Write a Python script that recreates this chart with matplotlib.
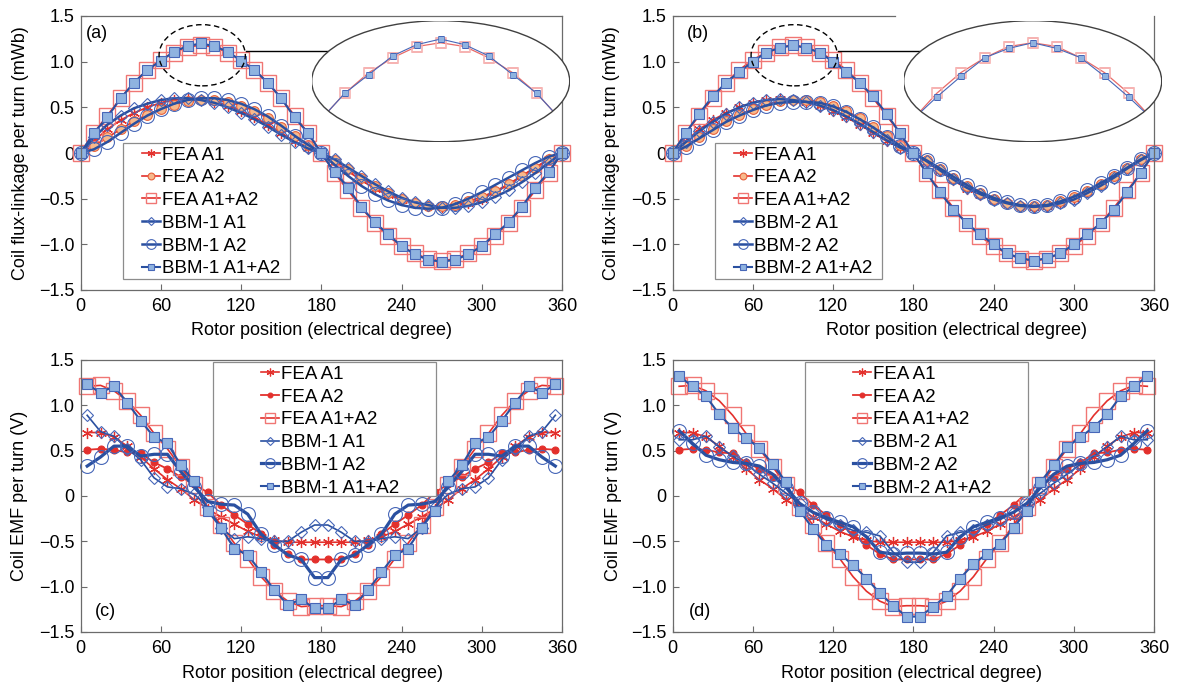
import matplotlib
matplotlib.use("Agg")
import matplotlib.pyplot as plt
from matplotlib.patches import Ellipse, Rectangle
from matplotlib.ticker import FuncFormatter

plt.rcParams["font.family"] = ["Liberation Sans", "DejaVu Sans"]

# Rotor position (electrical degree)
pos_flux = list(range(0, 361, 10))
pos_emf = list(range(5, 360, 10))

# Coil flux-linkage per turn (mWb), panels (a) and (b)
flux_fea_a1 = [0, 0.13, 0.26, 0.36, 0.44, 0.50, 0.55, 0.58, 0.59, 0.58, 0.56, 0.52, 0.46, 0.39,
               0.31, 0.22, 0.13, 0.06, 0, -0.10, -0.20, -0.30, -0.39, -0.46, -0.51, -0.55, -0.58,
               -0.59, -0.58, -0.55, -0.50, -0.43, -0.35, -0.25, -0.16, -0.07, 0]
flux_fea_a2 = [0, 0.08, 0.17, 0.26, 0.35, 0.42, 0.48, 0.53, 0.57, 0.58, 0.58, 0.56, 0.52, 0.46,
               0.38, 0.29, 0.19, 0.09, 0, -0.08, -0.17, -0.27, -0.36, -0.44, -0.50, -0.55, -0.58,
               -0.58, -0.57, -0.53, -0.48, -0.42, -0.34, -0.25, -0.16, -0.07, 0]
flux_fea_a12 = [0, 0.22, 0.41, 0.60, 0.77, 0.91, 1.02, 1.10, 1.16, 1.18, 1.16, 1.10, 1.02, 0.91,
                0.77, 0.60, 0.41, 0.22, 0, -0.22, -0.41, -0.60, -0.77, -0.91, -1.02, -1.10, -1.16,
                -1.18, -1.16, -1.10, -1.02, -0.91, -0.77, -0.60, -0.41, -0.22, 0]
flux_bbm1_a1 = [0, 0.17, 0.31, 0.41, 0.49, 0.54, 0.58, 0.60, 0.60, 0.58, 0.55, 0.50, 0.44, 0.37,
                0.29, 0.20, 0.12, 0.05, 0, -0.07, -0.16, -0.25, -0.34, -0.42, -0.49, -0.54, -0.57,
                -0.60, -0.60, -0.58, -0.54, -0.48, -0.41, -0.32, -0.22, -0.11, 0]
flux_bbm1_a2 = [0, 0.04, 0.12, 0.22, 0.32, 0.41, 0.48, 0.54, 0.58, 0.60, 0.60, 0.58, 0.54, 0.48,
                0.40, 0.30, 0.19, 0.09, 0, -0.13, -0.25, -0.36, -0.45, -0.52, -0.57, -0.60, -0.61,
                -0.60, -0.56, -0.50, -0.43, -0.35, -0.27, -0.19, -0.11, -0.04, 0]
flux_bbm1_a12 = [0, 0.22, 0.39, 0.60, 0.77, 0.91, 1.01, 1.11, 1.17, 1.20, 1.17, 1.11, 1.01, 0.91,
                 0.77, 0.60, 0.39, 0.22, 0, -0.21, -0.38, -0.59, -0.76, -0.89, -1.02, -1.11, -1.17,
                 -1.19, -1.17, -1.11, -1.02, -0.89, -0.76, -0.59, -0.38, -0.21, 0]
flux_bbm2_a1 = [0, 0.12, 0.24, 0.34, 0.43, 0.50, 0.55, 0.58, 0.59, 0.58, 0.56, 0.52, 0.47, 0.40,
                0.32, 0.23, 0.14, 0.06, 0, -0.09, -0.19, -0.29, -0.38, -0.45, -0.51, -0.55, -0.58,
                -0.59, -0.58, -0.55, -0.51, -0.44, -0.36, -0.27, -0.17, -0.08, 0]
flux_bbm2_a2 = [0, 0.07, 0.16, 0.25, 0.34, 0.41, 0.47, 0.52, 0.55, 0.56, 0.56, 0.55, 0.51, 0.45,
                0.37, 0.28, 0.18, 0.08, 0, -0.08, -0.17, -0.26, -0.35, -0.43, -0.49, -0.54, -0.57,
                -0.58, -0.57, -0.53, -0.48, -0.41, -0.33, -0.25, -0.16, -0.07, 0]
flux_bbm2_a12 = [0, 0.22, 0.43, 0.62, 0.77, 0.89, 1.00, 1.10, 1.15, 1.18, 1.15, 1.10, 1.00, 0.89,
                 0.77, 0.62, 0.43, 0.22, 0, -0.22, -0.43, -0.62, -0.77, -0.89, -1.00, -1.10, -1.15,
                 -1.18, -1.15, -1.10, -1.00, -0.89, -0.77, -0.62, -0.43, -0.22, 0]

# Coil EMF per turn (V), panels (c) and (d)
emf_fea_a1 = [0.70, 0.70, 0.65, 0.55, 0.43, 0.30, 0.18, 0.08, -0.04, -0.14, -0.23, -0.31,
              -0.39, -0.45, -0.49, -0.51, -0.51, -0.51, -0.51, -0.51, -0.51, -0.49, -0.45,
              -0.39, -0.31, -0.23, -0.14, -0.04, 0.08, 0.18, 0.30, 0.43, 0.55, 0.65, 0.70, 0.70]
emf_fea_a2 = [0.51, 0.52, 0.51, 0.48, 0.47, 0.37, 0.30, 0.21, 0.13, 0.04, -0.10, -0.21,
              -0.31, -0.42, -0.54, -0.64, -0.70, -0.70, -0.70, -0.70, -0.64, -0.54, -0.42,
              -0.31, -0.21, -0.10, 0.04, 0.13, 0.21, 0.30, 0.37, 0.47, 0.48, 0.51, 0.52, 0.51]
emf_fea_a12 = [1.21, 1.22, 1.16, 1.05, 0.89, 0.69, 0.52, 0.32, 0.12, -0.12, -0.32, -0.52,
               -0.69, -0.89, -1.05, -1.16, -1.22, -1.21, -1.21, -1.22, -1.16, -1.05, -0.89,
               -0.69, -0.52, -0.32, -0.12, 0.12, 0.32, 0.52, 0.69, 0.89, 1.05, 1.16, 1.22, 1.21]
emf_bbm1_a1 = [0.89, 0.71, 0.66, 0.52, 0.40, 0.20, 0.10, 0.08, 0.02, -0.12, -0.35, -0.47,
               -0.45, -0.47, -0.50, -0.50, -0.40, -0.32, -0.32, -0.40, -0.50, -0.50, -0.47,
               -0.45, -0.47, -0.35, -0.12, 0.02, 0.08, 0.10, 0.20, 0.40, 0.52, 0.66, 0.71, 0.89]
emf_bbm1_a2 = [0.33, 0.43, 0.55, 0.55, 0.44, 0.46, 0.46, 0.27, 0.10, -0.06, -0.09, -0.10,
               -0.20, -0.42, -0.54, -0.65, -0.70, -0.90, -0.90, -0.70, -0.65, -0.54, -0.42,
               -0.20, -0.10, -0.09, -0.06, 0.10, 0.27, 0.46, 0.46, 0.44, 0.55, 0.55, 0.43, 0.33]
emf_bbm1_a12 = [1.23, 1.14, 1.21, 1.03, 0.83, 0.65, 0.58, 0.34, 0.16, -0.16, -0.35, -0.58,
                -0.65, -0.84, -1.04, -1.20, -1.14, -1.24, -1.24, -1.14, -1.20, -1.04, -0.84,
                -0.65, -0.58, -0.35, -0.16, 0.16, 0.34, 0.58, 0.65, 0.83, 1.03, 1.21, 1.14, 1.23]
emf_bbm2_a1 = [0.62, 0.62, 0.66, 0.54, 0.44, 0.35, 0.24, 0.14, 0.03, -0.08, -0.18, -0.26,
               -0.32, -0.38, -0.40, -0.44, -0.62, -0.73, -0.73, -0.62, -0.44, -0.40, -0.38,
               -0.32, -0.26, -0.18, -0.08, 0.03, 0.14, 0.24, 0.35, 0.44, 0.54, 0.66, 0.62, 0.62]
emf_bbm2_a2 = [0.72, 0.58, 0.45, 0.40, 0.37, 0.36, 0.33, 0.24, 0.09, -0.08, -0.18, -0.24,
               -0.29, -0.34, -0.45, -0.62, -0.64, -0.63, -0.63, -0.64, -0.62, -0.45, -0.34,
               -0.29, -0.24, -0.18, -0.08, 0.09, 0.24, 0.33, 0.36, 0.37, 0.40, 0.45, 0.58, 0.72]
emf_bbm2_a12 = [1.32, 1.21, 1.10, 0.90, 0.75, 0.64, 0.53, 0.35, 0.15, -0.16, -0.36, -0.54,
                -0.64, -0.76, -0.91, -1.07, -1.21, -1.33, -1.33, -1.22, -1.10, -0.91, -0.75,
                -0.64, -0.53, -0.35, -0.16, 0.15, 0.34, 0.54, 0.65, 0.76, 0.90, 1.10, 1.21, 1.32]

RED = "#e3302c"
PINK = "#f07674"
BLUE = "#2a50a0"
MBLUE = "#4767b8"
LBLUE = "#8fb3e0"
ORANGE = "#f7b98c"
SPINE = "#6b6b6b"
ASTER = (6, 2, 0)
FS = 13
LEG_FS = 13.5


def styles(kind):
    if kind == "flux":
        fea_a2 = dict(color=RED, lw=1.2, marker="o", ms=7, mfc=ORANGE, mec="#e8603a", mew=0.8)
        bbm_lw = 1.8
        bbm_a2_lw = 1.8
    else:
        fea_a2 = dict(color=RED, lw=1.3, marker="o", ms=5, mfc=RED, mec=RED, mew=0.8)
        bbm_lw = 1.2
        bbm_a2_lw = 2.3
    return [
        dict(color=RED, lw=1.2, marker=ASTER, ms=8, mec=RED, mew=0.9),
        fea_a2,
        dict(color=RED, lw=1.2, marker="s", ms=11, mfc="none", mec=PINK, mew=1.0),
        dict(color=BLUE, lw=bbm_lw, marker="D", ms=6.5, mfc="none", mec=MBLUE, mew=0.8),
        dict(color=BLUE, lw=bbm_a2_lw, marker="o", ms=10, mfc="none", mec=MBLUE, mew=0.8),
        dict(color=BLUE, lw=1.5, marker="s", ms=7, mfc=LBLUE, mec=MBLUE, mew=0.8),
    ]


def ytick_fmt(v, _):
    if abs(v) < 1e-9:
        return "0"
    return ("%.1f" % v).replace("-", "\u2212")


W, H = 1181, 688
fig = plt.figure(figsize=(W / 100, H / 100), dpi=100)


def add_axes_px(x0, y0, x1, y1):
    return fig.add_axes([x0 / W, 1 - y1 / H, (x1 - x0) / W, (y1 - y0) / H])


def setup(ax, ylabel, ylab_x, xlab_x, xlab_y, tag, tag_xy):
    ax.set_xlim(0, 360)
    ax.set_ylim(-1.5, 1.5)
    ax.set_xticks(range(0, 361, 60))
    ax.set_yticks([-1.5, -1.0, -0.5, 0, 0.5, 1.0, 1.5])
    ax.yaxis.set_major_formatter(FuncFormatter(ytick_fmt))
    ax.tick_params(direction="in", length=4, width=0.8, color=SPINE, labelsize=FS)
    ax.tick_params(axis="x", pad=5.5)
    ax.tick_params(axis="y", pad=4.5)
    for s in ax.spines.values():
        s.set_color(SPINE)
        s.set_linewidth(0.9)
    ax.set_ylabel(ylabel, fontsize=FS)
    ax.yaxis.set_label_coords(ylab_x, 0.5)
    ax.set_xlabel("Rotor position (electrical degree)", fontsize=FS)
    ax.xaxis.set_label_coords(xlab_x, xlab_y)
    ax.text(tag_xy[0], tag_xy[1], tag, transform=ax.transAxes, fontsize=FS,
            ha="left", va="center")


def draw_series(ax, x, series, labels, kind):
    for y, lab, st in zip(series, labels, styles(kind)):
        ax.plot(x, y, label=lab, clip_on=False, **st)


def add_legend(ax, box, anchor):
    x0, y0, x1, y1 = box
    ax.add_patch(Rectangle((x0, y0), x1 - x0, y1 - y0, transform=ax.transAxes,
                           facecolor="white", edgecolor="#8c8c8c", lw=0.9, zorder=5))
    leg = ax.legend(loc="upper left", bbox_to_anchor=anchor, frameon=False, fontsize=LEG_FS,
                    handlelength=0.95, handletextpad=0.1, labelspacing=0.3,
                    borderpad=0, borderaxespad=0, markerscale=0.7)
    leg.set_zorder(6)


def add_inset(ax_main, px_left, a12_fea, a12_bbm):
    # dashed marker around the peak and the connector line
    ax_main.add_patch(Ellipse((91, 1.07), 64.5, 0.67, fill=False, ls=(0, (4, 2.5)),
                              ec="black", lw=1.0, zorder=4))
    ax_main.plot([123.5, 186], [1.115, 1.115], color="black", lw=1.0, zorder=4)
    ax_in = add_axes_px(px_left, 20.7, px_left + 258, 141.7)
    ax_in.set_xlim(36.2, 143.8)
    ax_in.set_ylim(0.651, 1.298)
    ax_in.axis("off")
    back = Ellipse((0.5, 0.5), 1, 1, transform=ax_in.transAxes, facecolor="white",
                   edgecolor="none", zorder=0)
    ax_in.add_patch(back)
    l1, = ax_in.plot(pos_flux, a12_fea, color="#e86a68", lw=0.9, marker="s", ms=7,
                     mfc="none", mec="#f6b3b2", mew=1.2, zorder=2)
    l2, = ax_in.plot(pos_flux, a12_bbm, color=MBLUE, lw=0.8, marker="s", ms=4.8,
                     mfc=LBLUE, mec=MBLUE, mew=0.5, zorder=3)
    l1.set_clip_path(back)
    l2.set_clip_path(back)
    ax_in.add_patch(Ellipse((0.5, 0.5), 1, 1, transform=ax_in.transAxes, fill=False,
                            edgecolor="#404040", lw=1.0, zorder=4))


labels1 = ["FEA A1", "FEA A2", "FEA A1+A2", "BBM-1 A1", "BBM-1 A2", "BBM-1 A1+A2"]
labels2 = ["FEA A1", "FEA A2", "FEA A1+A2", "BBM-2 A1", "BBM-2 A2", "BBM-2 A1+A2"]

ax_a = add_axes_px(80.5, 16, 562, 290)
ax_b = add_axes_px(672.5, 16, 1154, 290)
ax_c = add_axes_px(80.5, 360, 562, 632)
ax_d = add_axes_px(672.5, 360, 1154, 632)

# (a)
draw_series(ax_a, pos_flux, [flux_fea_a1, flux_fea_a2, flux_fea_a12,
                             flux_bbm1_a1, flux_bbm1_a2, flux_bbm1_a12], labels1, "flux")
setup(ax_a, "Coil flux-linkage per turn (mWb)", -0.107, 0.5, -0.117, "(a)", (0.012, 0.935))
add_legend(ax_a, (0.088, 0.040, 0.435, 0.536), (0.128, 0.524))
add_inset(ax_a, 311.7, flux_fea_a12, flux_bbm1_a12)

# (b)
draw_series(ax_b, pos_flux, [flux_fea_a1, flux_fea_a2, flux_fea_a12,
                             flux_bbm2_a1, flux_bbm2_a2, flux_bbm2_a12], labels2, "flux")
setup(ax_b, "Coil flux-linkage per turn (mWb)", -0.109, 0.589, -0.117, "(b)", (0.03, 0.935))
ax_b.spines["top"].set_visible(False)
ax_b.plot([0, 0.463], [1, 1], transform=ax_b.transAxes, color=SPINE, lw=0.9, clip_on=False)
add_legend(ax_b, (0.088, 0.040, 0.435, 0.536), (0.128, 0.524))
add_inset(ax_b, 903.7, flux_fea_a12, flux_bbm2_a12)

# (c)
draw_series(ax_c, pos_emf, [emf_fea_a1, emf_fea_a2, emf_fea_a12,
                            emf_bbm1_a1, emf_bbm1_a2, emf_bbm1_a12], labels1, "emf")
setup(ax_c, "Coil EMF per turn (V)", -0.109, 0.481, -0.121, "(c)", (0.03, 0.074))
add_legend(ax_c, (0.275, 0.5, 0.738, 0.993), (0.3755, 0.979))

# (d)
draw_series(ax_d, pos_emf, [emf_fea_a1, emf_fea_a2, emf_fea_a12,
                            emf_bbm2_a1, emf_bbm2_a2, emf_bbm2_a12], labels2, "emf")
setup(ax_d, "Coil EMF per turn (V)", -0.105, 0.497, -0.121, "(d)", (0.034, 0.074))
add_legend(ax_d, (0.275, 0.5, 0.738, 0.993), (0.3755, 0.979))

fig.savefig("out.png", dpi=100)
